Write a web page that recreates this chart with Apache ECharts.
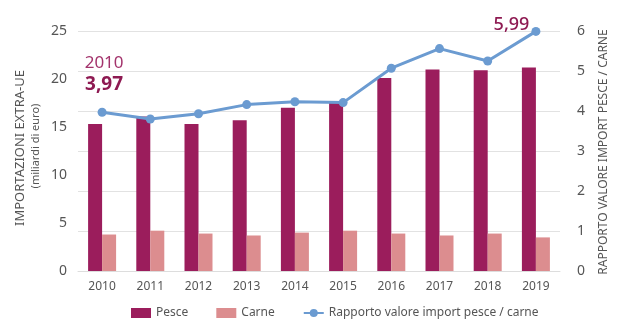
<!DOCTYPE html>
<html>
<head>
<meta charset="utf-8">
<script src="https://cdn.jsdelivr.net/npm/echarts@6/dist/echarts.min.js"></script>
<style>html,body{margin:0;padding:0;background:#fff}#c{width:623px;height:336px}</style>
</head>
<body>
<div id="c"></div>
<script>
const categories = ['2010','2011','2012','2013','2014','2015','2016','2017','2018','2019'];
const pesce = [15.3, 16.1, 15.3, 15.7, 17.0, 17.7, 20.1, 21.0, 20.9, 21.2];
const carne = [3.8, 4.2, 3.9, 3.7, 4.0, 4.2, 3.9, 3.7, 3.9, 3.5];
const rapporto = [3.97, 3.80, 3.93, 4.16, 4.23, 4.21, 5.07, 5.56, 5.25, 5.99];
const leftTicks = [0, 5, 10, 15, 20, 25];
const rightTicks = [0, 1, 2, 3, 4, 5, 6];

const FONT = '"Noto Sans", "Open Sans", sans-serif';
const chart = echarts.init(document.getElementById('c'));
const fmt = v => v.toFixed(2).replace('.', ',');

chart.setOption({
  animation: false,
  textStyle: { fontFamily: FONT },
  grid: { left: 78, right: 63, top: 31, bottom: 65 },
  legend: {
    bottom: 12, left: 126, itemGap: 28, itemWidth: 20, itemHeight: 10,
    textStyle: { fontSize: 12, color: '#555', fontFamily: FONT },
    data: [
      { name: 'Pesce', icon: 'rect' },
      { name: 'Carne', icon: 'rect' },
      { name: 'Rapporto valore import pesce / carne' }
    ]
  },
  xAxis: {
    type: 'category', data: categories,
    axisLine: { lineStyle: { color: '#ddd' } },
    axisTick: { show: false },
    axisLabel: { color: '#555', fontSize: 12, margin: 10 }
  },
  yAxis: [
    {
      type: 'value', min: leftTicks[0], max: leftTicks[leftTicks.length - 1], interval: 5,
      splitLine: { show: false }, axisLine: { show: false }, axisTick: { show: false },
      axisLabel: { color: '#555', fontSize: 14, margin: 11 }
    },
    {
      type: 'value', min: rightTicks[0], max: rightTicks[rightTicks.length - 1], interval: 1,
      splitLine: { show: true, lineStyle: { color: '#e2e2e2' } },
      axisLine: { show: false }, axisTick: { show: false },
      axisLabel: { color: '#555', fontSize: 14, margin: 17 }
    }
  ],
  graphic: [
    {
      type: 'text', x: 20, y: 148, rotation: Math.PI / 2,
      style: { text: 'IMPORTAZIONI EXTRA-UE', fill: '#555', font: '13px ' + FONT, align: 'center', verticalAlign: 'middle' }
    },
    {
      type: 'text', x: 36, y: 146, rotation: Math.PI / 2,
      style: { text: '(miliardi di euro)', fill: '#555', font: '11px ' + FONT, align: 'center', verticalAlign: 'middle' }
    },
    {
      type: 'text', x: 604, y: 152, rotation: Math.PI / 2,
      style: { text: 'RAPPORTO VALORE IMPORT PESCE / CARNE', fill: '#555', font: '12px ' + FONT, align: 'center', verticalAlign: 'middle' }
    }
  ],
  series: [
    {
      name: 'Pesce', type: 'bar', data: pesce, barWidth: 14, barGap: '0%',
      itemStyle: { color: '#9b1d5c' }
    },
    {
      name: 'Carne', type: 'bar', data: carne, barWidth: 14,
      itemStyle: { color: '#dc8d8f' }
    },
    {
      name: 'Rapporto valore import pesce / carne', type: 'line', yAxisIndex: 1,
      data: rapporto.map((v, i) => {
        if (i === 0) {
          return { value: v, label: {
            show: true, position: 'top', distance: 12, offset: [2, 0],
            formatter: '{a|' + categories[i] + '}\n{b|' + fmt(v) + '}',
            rich: {
              a: { fontSize: 17, color: '#a3336c', fontFamily: FONT, lineHeight: 21 },
              b: { fontSize: 19, fontWeight: 'bold', color: '#8e1a52', fontFamily: FONT, lineHeight: 22 }
            }
          } };
        }
        if (i === rapporto.length - 1) {
          return { value: v, label: {
            show: true, position: 'left', distance: 4, offset: [2, -7],
            formatter: fmt(v), fontSize: 18, fontWeight: 500, color: '#8e1a52', fontFamily: FONT
          } };
        }
        return v;
      }),
      symbol: 'circle', symbolSize: 9,
      lineStyle: { color: '#6b9bd1', width: 3 },
      itemStyle: { color: '#6b9bd1' }
    }
  ]
});
</script>
</body>
</html>
